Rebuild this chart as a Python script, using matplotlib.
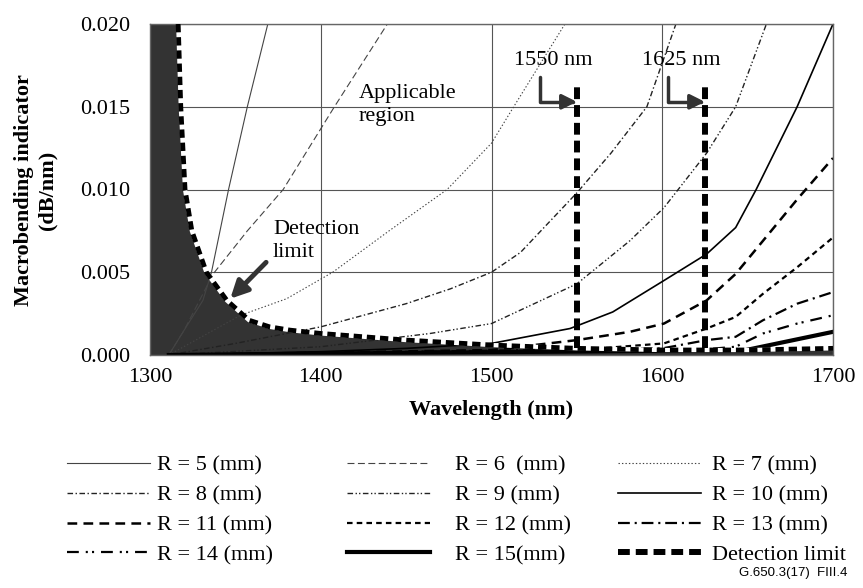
import matplotlib
matplotlib.use('Agg')
import matplotlib.pyplot as plt
from matplotlib.ticker import FormatStrFormatter
from matplotlib.lines import Line2D

plt.rcParams.update({'font.family': ['Liberation Serif', 'DejaVu Serif'],
                     'font.size': 16,
                     'lines.scale_dashes': False})

# data (wavelength nm, macrobending indicator dB/nm)
r5_x = [1311, 1320, 1331, 1336, 1346, 1357, 1369]
r5_y = [0, 0.0015, 0.0033, 0.005, 0.010, 0.015, 0.020]
r6_x = [1311, 1320, 1337, 1357, 1378, 1408, 1439]
r6_y = [0, 0.0015, 0.0049, 0.0075, 0.010, 0.015, 0.020]
r7_x = [1311, 1353, 1380, 1407, 1440, 1474, 1500, 1513, 1543]
r7_y = [0, 0.0024, 0.0034, 0.005, 0.0075, 0.010, 0.0128, 0.015, 0.020]
r8_x = [1311, 1350, 1400, 1450, 1476, 1500, 1517, 1550, 1570, 1591, 1608]
r8_y = [0, 0.0007, 0.0017, 0.0031, 0.0040, 0.0050, 0.0062, 0.0098, 0.0122, 0.015, 0.020]
r9_x = [1311, 1400, 1464, 1500, 1550, 1581, 1601, 1626, 1643, 1661]
r9_y = [0, 0.0005, 0.0013, 0.0019, 0.0043, 0.0069, 0.0089, 0.0122, 0.015, 0.020]
r10_x = [1311, 1400, 1450, 1500, 1546, 1571, 1601, 1626, 1643, 1655, 1679, 1700]
r10_y = [0, 0.0002, 0.0004, 0.0007, 0.0016, 0.0026, 0.0045, 0.0061, 0.0077, 0.010, 0.015, 0.020]
r11_x = [1311, 1500, 1550, 1581, 1601, 1626, 1643, 1659, 1679, 1700]
r11_y = [0, 0.0003, 0.0009, 0.0014, 0.0019, 0.0033, 0.0049, 0.0069, 0.0094, 0.0119]
r12_x = [1311, 1550, 1601, 1626, 1643, 1659, 1679, 1700]
r12_y = [0, 0.0003, 0.0007, 0.0016, 0.0023, 0.0037, 0.0053, 0.0071]
r13_x = [1311, 1600, 1626, 1643, 1659, 1679, 1700]
r13_y = [0, 0.0004, 0.0009, 0.0011, 0.0021, 0.0031, 0.0038]
r14_x = [1311, 1620, 1643, 1659, 1679, 1700]
r14_y = [0, 0.0003, 0.0005, 0.0013, 0.0019, 0.0024]
r15_x = [1311, 1649, 1700]
r15_y = [0, 0.0003, 0.0014]

det_x = [1316.5, 1318, 1320.5, 1324.5, 1333, 1345, 1358, 1370, 1382, 1400,
         1450, 1500, 1550, 1600, 1650, 1700]
det_y = [0.020, 0.015, 0.010, 0.0075, 0.005, 0.0033, 0.0021, 0.0017, 0.0015, 0.0013,
         0.0009, 0.0006, 0.0004, 0.0003, 0.0003, 0.0004]
fill_x = [1300] + det_x
fill_y = [0.020] + det_y

marker_wl = [1550, 1625]
marker_top = 0.0164
marker_labels = ['1550 nm', '1625 nm']

x_ticks = [1300, 1400, 1500, 1600, 1700]
y_ticks = [0.000, 0.005, 0.010, 0.015, 0.020]

series = [
    (r5_x, r5_y, 'R = 5 (mm)', dict(color='#444444', lw=0.8, ls='-')),
    (r6_x, r6_y, 'R = 6  (mm)', dict(color='#444444', lw=0.8, ls=(0, (5, 2.5)))),
    (r7_x, r7_y, 'R = 7 (mm)', dict(color='#444444', lw=0.8, ls=(0, (1, 1.5)))),
    (r8_x, r8_y, 'R = 8 (mm)', dict(color='#222222', lw=1.0, ls=(0, (4, 1.8, 1, 1.8)))),
    (r9_x, r9_y, 'R = 9 (mm)', dict(color='#222222', lw=1.0, ls=(0, (4, 1.8, 1, 1.5, 1, 1.8)))),
    (r10_x, r10_y, 'R = 10 (mm)', dict(color='black', lw=1.2, ls='-')),
    (r11_x, r11_y, 'R = 11 (mm)', dict(color='black', lw=1.8, ls=(0, (7, 4.5)))),
    (r12_x, r12_y, 'R = 12 (mm)', dict(color='black', lw=1.6, ls=(0, (4, 3)))),
    (r13_x, r13_y, 'R = 13 (mm)', dict(color='black', lw=1.6, ls=(0, (8.5, 3.5, 1.5, 3.5)))),
    (r14_x, r14_y, 'R = 14 (mm)', dict(color='black', lw=1.6, ls=(0, (8.5, 5, 1.5, 3, 1.5, 5)))),
    (r15_x, r15_y, 'R = 15(mm)', dict(color='black', lw=3.0, ls='-')),
]
det_style = dict(color='black', lw=4.3, ls=(0, (8.5, 4.3)))

fig = plt.figure(figsize=(8.63, 5.88), dpi=100, facecolor='w')
ax = fig.add_axes([150 / 863, 1 - 355 / 588, 683 / 863, 331 / 588])

ax.fill_between(fill_x, 0, fill_y, color='#333333', lw=0, zorder=1)

handles = []
for x, y, lab, st in series:
    ax.plot(x, y, zorder=2, **st)
    handles.append(Line2D([], [], label=lab, **st))

ax.plot(det_x, det_y, color='white', lw=3.0, zorder=3)
ax.plot(det_x, det_y, color='black', lw=3.5, ls=(0, (6, 3.5)), zorder=4)
for wl in marker_wl:
    ax.plot([wl, wl], [0.0004, marker_top], zorder=5, **det_style)
handles.append(Line2D([], [], label='Detection limit', **det_style))

# annotations
arrow_col = '#333333'
for wl, lab in zip(marker_wl, marker_labels):
    ax.text(wl - 14, 0.0178, lab, ha='center', va='center', fontsize=16)
    ax.annotate('', xy=(wl, 0.0153), xytext=(wl - 21.5, 0.0168),
                arrowprops=dict(arrowstyle='-|>', color=arrow_col, lw=2.5,
                                mutation_scale=22, shrinkA=0, shrinkB=0,
                                connectionstyle='angle,angleA=-90,angleB=0,rad=0'),
                zorder=6)
ax.text(1422, 0.0151, 'Applicable\nregion', ha='left', va='center', fontsize=16,
        linespacing=1.3)
ax.text(1372, 0.0069, 'Detection\nlimit', ha='left', va='center', fontsize=16,
        linespacing=1.25)
ax.annotate('', xy=(1347, 0.0034), xytext=(1368, 0.0056),
            arrowprops=dict(arrowstyle='-|>', color=arrow_col, lw=3.5,
                            mutation_scale=26, shrinkA=0, shrinkB=0), zorder=6)

ax.set_xlim(1300, 1700)
ax.set_ylim(0, 0.020)
ax.set_xticks(x_ticks)
ax.set_yticks(y_ticks)
ax.yaxis.set_major_formatter(FormatStrFormatter('%.3f'))
ax.tick_params(length=0, labelsize=16)
ax.tick_params(axis='x', pad=9)
ax.tick_params(axis='y', pad=14)
ax.grid(True, color='#555555', lw=0.8)
ax.set_axisbelow(True)
for s in ax.spines.values():
    s.set_color('#666666')
    s.set_linewidth(1.0)

ax.set_xlabel('Wavelength (nm)', fontweight='bold', fontsize=16, labelpad=10)
fig.text(36 / 863, 1 - 190 / 588, 'Macrobending indicator\n(dB/nm)', rotation=90,
         ha='center', va='center', fontweight='bold', fontsize=16, linespacing=1.2)

# legend: three columns placed separately
cols = [[0, 3, 6, 9], [1, 4, 7, 10], [2, 5, 8, 11]]
col_x = [67, 347, 618]
col_pad = [0.3, 1.1, 0.5]
for idx, cx, pad in zip(cols, col_x, col_pad):
    fig.legend(handles=[handles[i] for i in idx], loc='upper left',
               bbox_to_anchor=(cx / 863, 1 - 455 / 588), frameon=False,
               fontsize=16, handlelength=3.75, handletextpad=pad,
               labelspacing=0.42, borderpad=0, borderaxespad=0)

fig.text(847 / 863, 1 - 573 / 588, 'G.650.3(17)  FIII.4', ha='right', va='center',
         fontsize=9.5, family=['Liberation Sans', 'DejaVu Sans'])

fig.savefig('out.png', dpi=100)
